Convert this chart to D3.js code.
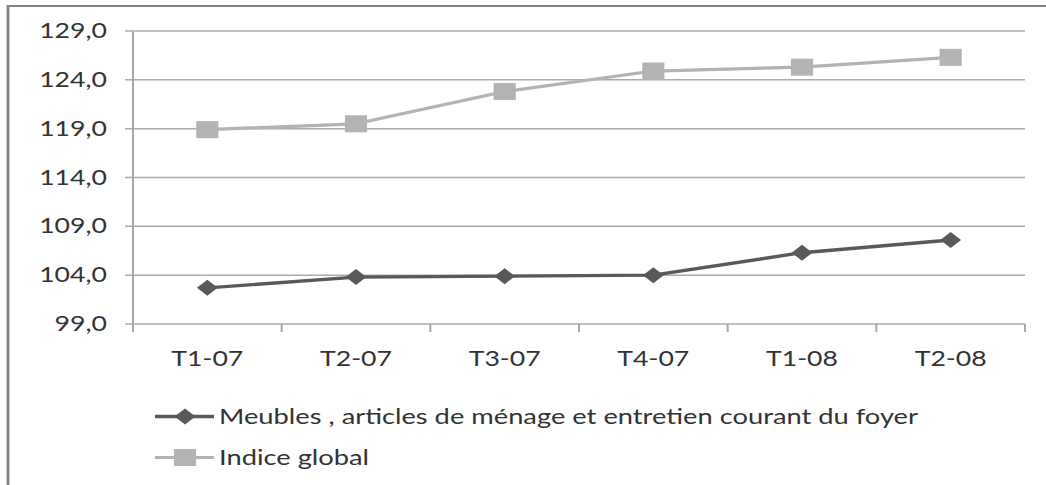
<!DOCTYPE html>
<html>
<head>
<meta charset="utf-8">
<script src="https://cdn.jsdelivr.net/npm/d3@7"></script>
<style>
  html, body { margin: 0; padding: 0; background: #fff; }
  svg { display: block; }
  text { font-family: Lato, "Open Sans", sans-serif; fill: #333; }
</style>
</head>
<body>
<div id="chart"></div>
<script>
const categories = ['T1-07', 'T2-07', 'T3-07', 'T4-07', 'T1-08', 'T2-08'];
const meubles = [102.7, 103.8, 103.9, 104.0, 106.3, 107.6];
const indiceGlobal = [118.9, 119.5, 122.8, 124.9, 125.3, 126.3];
const yTicks = [99, 104, 109, 114, 119, 124, 129];
const seriesNames = ['Meubles , articles de ménage et entretien courant du foyer', 'Indice global'];

const width = 1046, height = 485;
// the original picture is stretched sideways, so draw in a narrower viewBox
const stretch = 1.3;
const vw = width / stretch;
const sx = px => px / stretch;

const margin = {top: 31, right: 1025, bottom: 324, left: 133};

const svg = d3.select('#chart').append('svg')
  .attr('width', width)
  .attr('height', height)
  .attr('viewBox', `0 0 ${vw} ${height}`)
  .attr('preserveAspectRatio', 'none');

// outer frame (left and top edges only visible)
svg.append('path')
  .attr('d', `M${sx(8)},${height} V6 H${vw}`)
  .attr('fill', 'none')
  .attr('stroke', '#858585')
  .attr('stroke-width', 2.2);

const x = d3.scaleBand()
  .domain(categories)
  .range([sx(margin.left), sx(margin.right)]);

const y = d3.scaleLinear()
  .domain([99, 129])
  .range([margin.bottom, margin.top]);

const fmt = v => d3.format('.1f')(v).replace('.', ',');

// grid lines + left ticks
const yAxis = svg.append('g');
yAxis.selectAll('line.grid')
  .data(yTicks)
  .join('line')
  .attr('class', 'grid')
  .attr('x1', sx(125))
  .attr('x2', x.range()[1])
  .attr('y1', d => y(d))
  .attr('y2', d => y(d))
  .attr('stroke', '#ababab')
  .attr('stroke-width', 1.5);

yAxis.selectAll('text')
  .data(yTicks)
  .join('text')
  .attr('x', sx(107))
  .attr('y', d => y(d))
  .attr('dy', '0.35em')
  .attr('text-anchor', 'end')
  .style('font-size', '20.5px')
  .text(fmt);

// vertical axis line
svg.append('line')
  .attr('x1', x.range()[0]).attr('x2', x.range()[0])
  .attr('y1', y(129)).attr('y2', margin.bottom + 8)
  .attr('stroke', '#a5a5a5')
  .attr('stroke-width', 1.5);

// category boundary ticks
const bounds = categories.map(c => x(c)).concat([x.range()[1]]);
svg.selectAll('line.xtick')
  .data(bounds.slice(1))
  .join('line')
  .attr('class', 'xtick')
  .attr('x1', d => d).attr('x2', d => d)
  .attr('y1', margin.bottom).attr('y2', margin.bottom + 8)
  .attr('stroke', '#a5a5a5')
  .attr('stroke-width', 1.5);

svg.selectAll('text.xlab')
  .data(categories)
  .join('text')
  .attr('class', 'xlab')
  .attr('x', d => x(d) + x.bandwidth() / 2)
  .attr('y', 366)
  .attr('text-anchor', 'middle')
  .style('font-size', '20.5px')
  .text(d => d);

const cx = (d, i) => x(categories[i]) + x.bandwidth() / 2;

const series = [
  {name: seriesNames[0], values: meubles, color: '#595959', width: 3.4,
   symbol: d3.symbol().type(d3.symbolSquare).size(128), rotate: 45},
  {name: seriesNames[1], values: indiceGlobal, color: '#b3b3b3', width: 3.2,
   symbol: d3.symbol().type(d3.symbolSquare).size(290), rotate: 0},
];

const line = d3.line()
  .x(cx)
  .y(d => y(d));

series.slice().reverse().forEach(s => {
  const g = svg.append('g');
  g.append('path')
    .datum(s.values)
    .attr('d', line)
    .attr('fill', 'none')
    .attr('stroke', s.color)
    .attr('stroke-width', s.width)
    .attr('stroke-linejoin', 'round');
  g.selectAll('path.pt')
    .data(s.values)
    .join('path')
    .attr('class', 'pt')
    .attr('d', s.symbol)
    .attr('transform', (d, i) => `translate(${cx(d, i)},${y(d)}) rotate(${s.rotate})`)
    .attr('fill', s.color);
});

// legend
const legendY = [416.5, 457.5];
const legend = svg.selectAll('g.legend')
  .data(series)
  .join('g')
  .attr('class', 'legend')
  .attr('transform', (d, i) => `translate(0,${legendY[i]})`);

legend.append('line')
  .attr('x1', sx(155)).attr('x2', sx(214))
  .attr('y1', 0).attr('y2', 0)
  .attr('stroke', d => d.color)
  .attr('stroke-width', d => d.width);

legend.append('path')
  .attr('d', d => d.symbol())
  .attr('transform', d => `translate(${sx(185)},0) rotate(${d.rotate})`)
  .attr('fill', d => d.color);

legend.append('text')
  .attr('x', sx(219))
  .attr('y', 0)
  .attr('dy', '0.35em')
  .style('font-size', '21px')
  .text(d => d.name);
</script>
</body>
</html>
